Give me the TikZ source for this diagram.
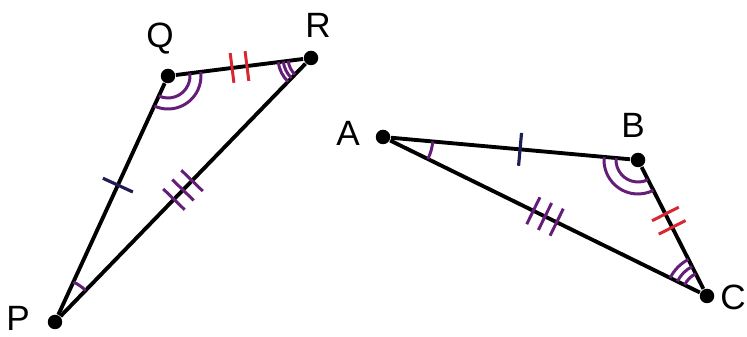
\documentclass[tikz,border=0pt]{standalone}
\usepackage{fontspec}
\setmainfont{Liberation Sans}
\usepackage{tikz}
\usetikzlibrary{angles,decorations.markings,calc}
\definecolor{markpurple}{RGB}{100,30,120}
\definecolor{markred}{RGB}{215,40,50}
\definecolor{marknavy}{RGB}{30,30,85}

\begin{document}
\begin{tikzpicture}[x=0.02cm, y=0.02cm, thick]
        \tikzset{
            pt/.style={circle, fill=black, inner sep=0pt, minimum size=0.29cm},
            lbl/.style={font=\fontsize{20}{20}\selectfont, inner sep=0pt},
            edge/.style={draw, line width=2.2pt},
            arcmark/.style={draw=markpurple, line width=1.7pt, angle radius=#1},
            onetick/.style={postaction={decorate, decoration={markings, mark=at position #1 with {\draw[marknavy, line width=1.8pt] (0,-0.33cm) -- (0,0.33cm);}}}},
            twotick/.style={postaction={decorate, decoration={markings, mark=at position #1 with {\draw[markred, line width=1.7pt] (-0.15cm,-0.3cm) -- (-0.15cm,0.3cm) (0.15cm,-0.3cm) -- (0.15cm,0.3cm);}}}},
            threetick/.style={postaction={decorate, decoration={markings, mark=at position #1 with {\draw[markpurple, line width=1.7pt] (-0.26cm,-0.3cm) -- (-0.26cm,0.3cm) (0,-0.3cm) -- (0,0.3cm) (0.26cm,-0.3cm) -- (0.26cm,0.3cm);}}}}
        }
        \useasboundingbox (0,0) rectangle (747,337);
        
        % Triangle PQR
        \node[pt] (P) at (55,15) {};
        \node[pt] (Q) at (168,261) {};
        \node[pt] (R) at (311,279) {};
        \node[lbl] (labP) at (18,19) {P};
        \node[lbl] (labQ) at (160,298) {Q};
        \node[lbl] (labR) at (318,312) {R};
        
        % Triangle ABC
        \node[pt] (A) at (383,200) {};
        \node[pt] (B) at (638,177) {};
        \node[pt] (C) at (707,41) {};
        \node[lbl] (labA) at (348,204) {A};
        \node[lbl] (labB) at (633,212) {B};
        \node[lbl] (labC) at (733,40) {C};
        
        % Sides with tick marks
        \path[edge, onetick=0.56] (P) -- (Q);
        \path[edge, twotick=0.5] (Q) -- (R);
        \path[edge, threetick=0.5] (P) -- (R);
        \path[edge, onetick=0.54] (A) -- (B);
        \path[edge, twotick=0.44] (B) -- (C);
        \path[edge, threetick=0.5] (A) -- (C);
        
        % Angle marks
        \pic[arcmark=0.88cm] {angle=R--P--Q};
        \pic[arcmark=0.44cm] {angle=P--Q--R};
        \pic[arcmark=0.66cm] {angle=P--Q--R};
        \pic[arcmark=0.46cm] {angle=Q--R--P};
        \pic[arcmark=0.56cm] {angle=Q--R--P};
        \pic[arcmark=0.66cm] {angle=Q--R--P};
        \pic[arcmark=1.0cm] {angle=C--A--B};
        \pic[arcmark=0.44cm] {angle=A--B--C};
        \pic[arcmark=0.68cm] {angle=A--B--C};
        \pic[arcmark=0.5cm] {angle=B--C--A};
        \pic[arcmark=0.66cm] {angle=B--C--A};
        \pic[arcmark=0.82cm] {angle=B--C--A};
        
    \end{tikzpicture}
\end{document}
